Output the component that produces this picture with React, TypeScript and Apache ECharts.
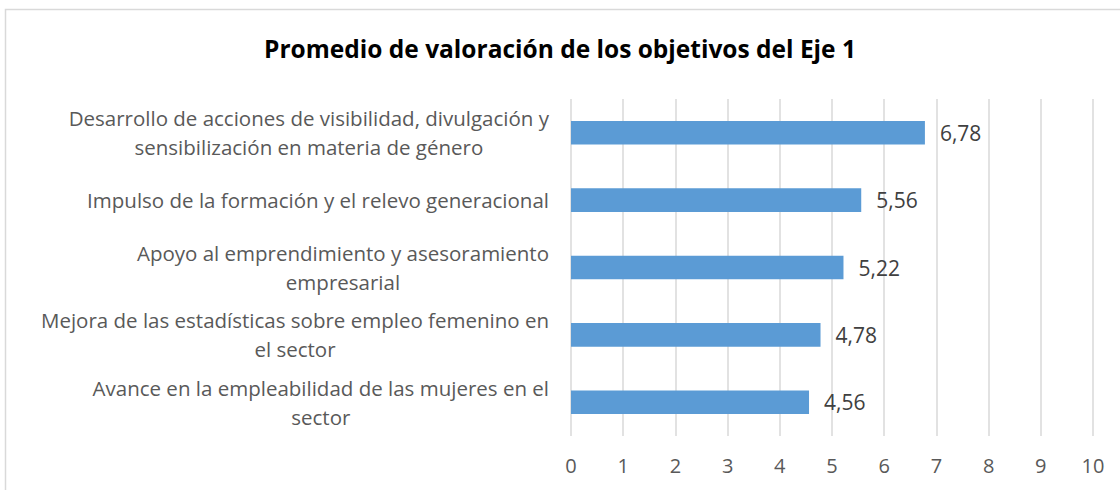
import React, { useEffect, useRef } from "react";
import * as echarts from "echarts";

const titleText = "Promedio de valoración de los objetivos del Eje 1";
const categories = [
  "Desarrollo de acciones de visibilidad, divulgación y\nsensibilización en materia de género",
  "Impulso de la formación y el relevo generacional",
  "Apoyo al emprendimiento y asesoramiento\nempresarial",
  "Mejora de las estadísticas sobre empleo femenino en\nel sector",
  "Avance en la empleabilidad de las mujeres en el\nsector",
];
const values = [6.78, 5.56, 5.22, 4.78, 4.56];
const axisMin = 0;
const axisMax = 10;
const axisInterval = 1;

const FONT = "Open Sans";

export default function App() {
  const ref = useRef<HTMLDivElement>(null);
  useEffect(() => {
    if (!ref.current) return;
    const chart = echarts.init(ref.current, undefined, { renderer: "svg" });
    chart.setOption({
      animation: false,
      backgroundColor: "#ffffff",
      textStyle: { fontFamily: FONT },
      title: {
        text: titleText,
        left: "center",
        top: 31,
        padding: [5, 5, 5, 35],
        textStyle: { fontFamily: FONT, fontWeight: "bold", fontSize: 24.5, color: "#000000" },
      },
      graphic: [
        {
          type: "rect",
          shape: { x: 5.5, y: 9.5, width: 1130, height: 500 },
          style: { fill: "none", stroke: "#d9d9d9", lineWidth: 1.5 },
          silent: true,
        },
      ],
      grid: { left: 571, right: 27, top: 99, bottom: 54 },
      xAxis: {
        type: "value",
        min: axisMin,
        max: axisMax,
        interval: axisInterval,
        axisLine: { show: false },
        axisTick: { show: false },
        splitLine: { show: true, lineStyle: { color: "#d9d9d9", width: 1.5 } },
        axisLabel: { fontFamily: FONT, fontSize: 20, color: "#595959", margin: 19 },
      },
      yAxis: {
        type: "category",
        data: categories,
        inverse: true,
        axisLine: { show: false },
        axisTick: { show: false },
        axisLabel: {
          margin: 22,
          formatter: (v: string) => v.split("\n").map((l) => `{c|${l}}`).join("\n"),
          rich: {
            c: { align: "center", fontFamily: FONT, fontSize: 20.5, color: "#595959", lineHeight: 29 },
          },
        },
      },
      series: [
        {
          type: "bar",
          data: values,
          barCategoryGap: "65%",
          itemStyle: { color: "#5B9BD5" },
          label: {
            show: true,
            position: "right",
            distance: 15,
            fontFamily: FONT,
            fontSize: 21,
            color: "#404040",
            formatter: (p: any) => String(p.value.toFixed(2)).replace(".", ","),
          },
        },
      ],
    });
    return () => chart.dispose();
  }, []);
  return (
    <div
      ref={ref}
      style={{ position: "fixed", left: 0, top: 0, width: 1120, height: 490 }}
    />
  );
}
